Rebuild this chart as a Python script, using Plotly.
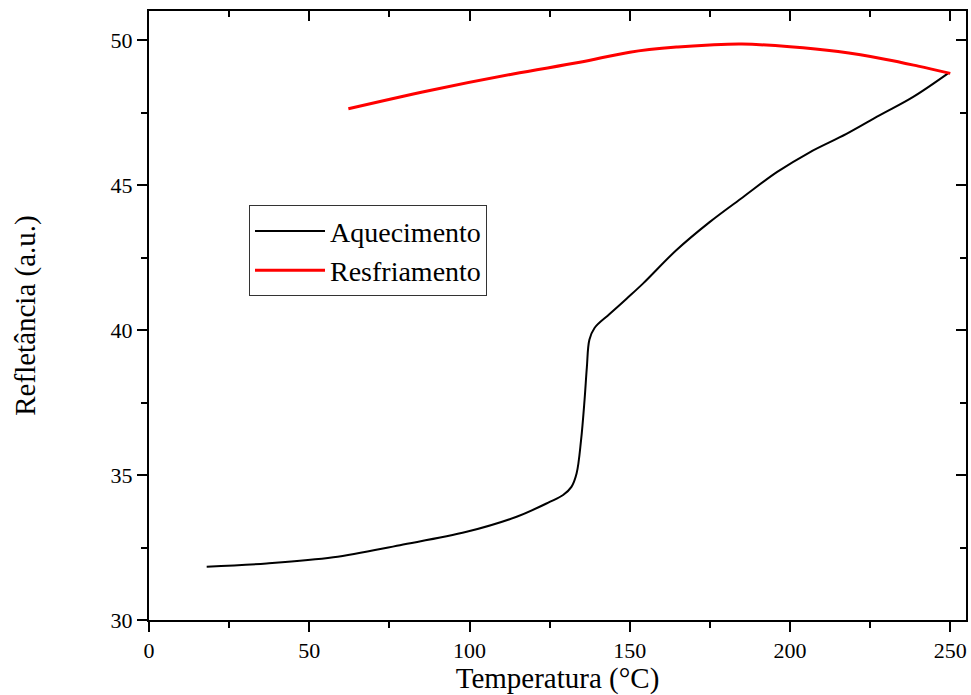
import plotly.graph_objects as go

# Aquecimento (heating) curve
heat_T = [18, 36.7, 57.5, 78.3, 99.1, 114.7, 125, 129.2, 131.8, 133.4, 134.8, 135.9,
          136.6, 137.4, 139, 143.7, 149, 154.1, 164.5, 174.9, 185.3, 196,
          206, 217.6, 227.9, 238.3, 249.3]
heat_R = [31.84, 31.95, 32.16, 32.58, 33.04, 33.56, 34.07, 34.31, 34.59, 35.05, 36.2, 37.6,
          38.7, 39.66, 40.07, 40.55, 41.08, 41.6, 42.75, 43.72, 44.58, 45.45,
          46.12, 46.76, 47.4, 48.03, 48.85]

# Resfriamento (cooling) curve
cool_T = [62.2, 87.6, 113.6, 134.4, 150, 165, 175, 185, 200, 215, 230, 240, 250]
cool_R = [47.63, 48.26, 48.83, 49.23, 49.58, 49.76, 49.83, 49.86, 49.77, 49.6, 49.33, 49.1, 48.85]

x_ticks = [0, 50, 100, 150, 200, 250]
y_ticks = [30, 35, 40, 45, 50]

FONT = "Liberation Serif, Times New Roman, serif"

fig = go.Figure()
fig.add_trace(go.Scatter(x=heat_T, y=heat_R, mode="lines", name="Aquecimento",
                         line=dict(color="black", width=2, shape="spline", smoothing=1.0)))
fig.add_trace(go.Scatter(x=cool_T, y=cool_R, mode="lines", name="Resfriamento",
                         line=dict(color="#ff0000", width=3, shape="spline", smoothing=1.0)))
# dummy trace to instantiate mirrored axes (top/right with inward ticks)
fig.add_trace(go.Scatter(x=[], y=[], xaxis="x2", yaxis="y2", showlegend=False, hoverinfo="skip"))

xr = [0, 254.9]
yr = [30, 51.0]

fig.update_layout(
    width=971, height=695,
    margin=dict(l=149, r=5, t=11, b=75),
    paper_bgcolor="white", plot_bgcolor="white",
    font=dict(family=FONT, size=22, color="black"),
    showlegend=True,
    legend=dict(x=0.1224, y=0.681, xanchor="left", yanchor="top",
                bgcolor="white", bordercolor="#333333", borderwidth=1,
                font=dict(family=FONT, size=28, color="black"),
                tracegroupgap=0, itemwidth=70),
    xaxis=dict(range=xr, tickvals=x_ticks, ticks="outside", ticklen=10, tickwidth=2,
               tickcolor="black", showline=True, linewidth=2, linecolor="black",
               showgrid=False, zeroline=False,
               minor=dict(dtick=25, tick0=0, ticks="outside", ticklen=6, tickwidth=2, tickcolor="black", showgrid=False),
               title=dict(text="Temperatura (°C)", font=dict(family=FONT, size=29), standoff=2),
               tickfont=dict(family=FONT, size=22)),
    yaxis=dict(range=yr, tickvals=y_ticks, ticks="outside", ticklen=10, tickwidth=2,
               tickcolor="black", showline=True, linewidth=2, linecolor="black",
               showgrid=False, zeroline=False,
               minor=dict(dtick=2.5, tick0=0, ticks="outside", ticklen=6, tickwidth=2, tickcolor="black", showgrid=False),
               title=dict(text="Refletância (a.u.)", font=dict(family=FONT, size=29), standoff=66),
               tickfont=dict(family=FONT, size=22)),
    xaxis2=dict(range=xr, overlaying="x", side="top", anchor="y", tickvals=x_ticks,
                ticks="inside", ticklen=10, tickwidth=2, tickcolor="black",
                showline=True, linewidth=2, linecolor="black", showticklabels=False,
                showgrid=False, zeroline=False,
                minor=dict(dtick=25, tick0=0, ticks="inside", ticklen=6, tickwidth=2, tickcolor="black", showgrid=False)),
    yaxis2=dict(range=yr, overlaying="y", side="right", anchor="x", tickvals=y_ticks,
                ticks="inside", ticklen=10, tickwidth=2, tickcolor="black",
                showline=True, linewidth=2, linecolor="black", showticklabels=False,
                showgrid=False, zeroline=False,
                minor=dict(dtick=2.5, tick0=0, ticks="inside", ticklen=6, tickwidth=2, tickcolor="black", showgrid=False)),
)

fig.write_html("out.html")
